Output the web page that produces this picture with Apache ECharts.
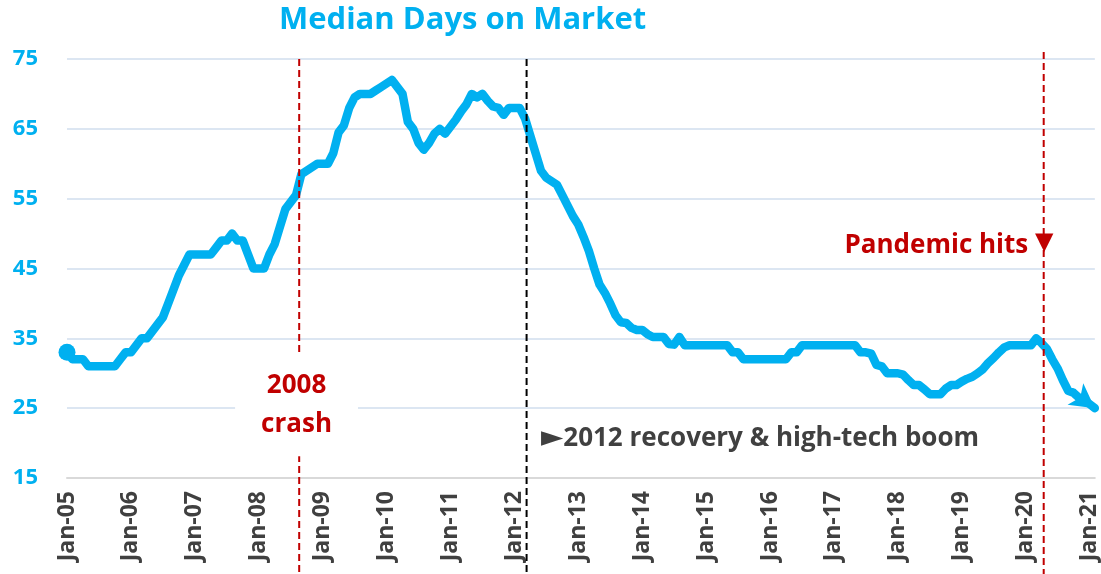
<!DOCTYPE html>
<html>
<head>
<meta charset="utf-8">
<script src="https://cdn.jsdelivr.net/npm/echarts/dist/echarts.min.js"></script>
<style>
  html, body { margin: 0; padding: 0; background: #fff; }
  #chart { width: 1101px; height: 574px; }
</style>
</head>
<body>
<div id="chart"></div>
<script>
// categories: Jan-05 ... Feb-21
const monthNames = ['Jan', 'Feb', 'Mar', 'Apr', 'May', 'Jun', 'Jul', 'Aug', 'Sep', 'Oct', 'Nov', 'Dec']
const years = ['05', '06', '07', '08', '09', '10', '11', '12', '13', '14', '15', '16', '17', '18', '19', '20', '21']
const lastLabel = 'Feb-21'
const categories = []
for (let y of years) {
  for (let m of monthNames) {
    if (categories[categories.length - 1] !== lastLabel) categories.push(m + '-' + y)
  }
}

// median days on market, one value per month
const medianDays = [
  33, 32, 32, 32, 31, 31, 31, 31, 31, 31, 32, 33, // 2005
  33, 34, 35, 35, 36, 37, 38, 40, 42, 44, 45.5, 47, // 2006
  47, 47, 47, 47, 48, 49, 49, 50, 49, 49, 47, 45, // 2007
  45, 45, 47, 48.5, 51, 53.5, 54.5, 55.5, 58.5, 59, 59.5, 60, // 2008
  60, 60, 61.5, 64.5, 65.5, 68, 69.5, 70, 70, 70, 70.5, 71, // 2009
  71.5, 72, 71, 70, 66, 65, 63, 62, 63, 64.3, 65, 64.3, // 2010
  65.3, 66.3, 67.5, 68.5, 70, 69.5, 70, 69, 68.2, 68, 67, 68, // 2011
  68, 68, 66.5, 64, 61.5, 59, 58, 57.5, 57, 55.5, 54, 52.5, // 2012
  51.3, 49.5, 47.5, 45, 42.7, 41.5, 40, 38.3, 37.3, 37.2, 36.5, 36.2, // 2013
  36.2, 35.6, 35.2, 35.2, 35.2, 34.2, 34.1, 35.2, 34, 34, 34, 34, // 2014
  34, 34, 34, 34, 34, 33, 33, 32, 32, 32, 32, 32, // 2015
  32, 32, 32, 32, 33, 33, 34, 34, 34, 34, 34, 34, // 2016
  34, 34, 34, 34, 34, 33, 33, 32.8, 31.2, 31, 30, 30, // 2017
  30, 29.8, 29, 28.3, 28.3, 27.7, 27, 27, 27, 27.8, 28.3, 28.3, // 2018
  28.8, 29.2, 29.5, 30, 30.6, 31.5, 32.2, 33, 33.7, 34, 34, 34, // 2019
  34, 34, 35, 34.3, 33.5, 32, 30.7, 29, 27.5, 27.2, 26.5, 26.1, // 2020
  25.6, 25 // 2021
]

const yTicks = [15, 25, 35, 45, 55, 65, 75]

// event lines (months counted from Jan-05)
const eventMonths = [43.6, 86.3, 183.4]
const eventTops = [75, 75, 76]
const eventColors = ['#C00000', '#000000', '#C00000']

// annotations
const noteTexts = ['2008\ncrash', '{tri|\u25BA}2012 recovery & high-tech boom', 'Pandemic hits', '\u25BC']
const noteMonths = [43.1, 89.0, 180.5, 183.5]
const noteValues = [25.4, 20.6, 48.3, 48.7]

const noteStyles = [
  { fill: '#C00000', align: 'center', font: 'bold 26px "Open Sans"', lineHeight: 39, backgroundColor: '#fff', padding: [12, 26] },
  { fill: '#404040', align: 'left', font: 'bold 26px "Open Sans"', rich: { tri: { fontSize: 29, fontFamily: 'DejaVu Sans', fill: '#404040' } } },
  { fill: '#C00000', align: 'right', font: 'bold 26px "Open Sans"' },
  { fill: '#C00000', align: 'center', font: '24px "DejaVu Sans"' }
]

const blue = '#00B0F0'

let lineData = medianDays.map((v, i) => {
  if (i === 0) return { value: v, symbol: 'circle', symbolSize: 17 }
  if (i === medianDays.length - 1) return { value: v, symbol: 'arrow', symbolSize: [20, 24], symbolRotate: -126 }
  return v
})

let chart = echarts.init(document.getElementById('chart'), null, { renderer: 'canvas' })
chart.setOption({
  animation: false,
  title: {
    text: 'Median Days on Market',
    left: 274,
    top: 0,
    textStyle: { color: blue, fontFamily: 'Open Sans', fontWeight: 'bold', fontSize: 31 }
  },
  grid: { left: 67, right: 0, top: 59, bottom: 96, containLabel: false },
  xAxis: [{
    type: 'category',
    data: categories,
    boundaryGap: false,
    axisLine: { lineStyle: { color: '#D9D9D9', width: 2 } },
    axisTick: { show: false },
    axisLabel: {
      interval: 11,
      rotate: 90,
      margin: 13,
      color: '#404040',
      fontFamily: 'Open Sans',
      fontWeight: 'bold',
      fontSize: 23
    }
  }, {
    // hidden month axis for event lines and notes
    type: 'value',
    min: 0,
    max: categories.length - 1,
    show: false
  }],
  yAxis: {
    type: 'value',
    min: yTicks[0],
    max: yTicks[yTicks.length - 1],
    interval: 10,
    axisLine: { show: false },
    axisTick: { show: false },
    splitLine: { lineStyle: { color: '#DCE6F2', width: 2 } },
    axisLabel: {
      margin: 29,
      color: blue,
      fontFamily: 'Open Sans',
      fontWeight: 'bold',
      fontSize: 22
    }
  },
  series: [
    {
      name: 'Median Days on Market',
      type: 'line',
      data: lineData,
      symbol: 'none',
      showSymbol: true,
      showAllSymbol: true,
      clip: false,
      itemStyle: { color: blue },
      lineStyle: { color: blue, width: 8.5, join: 'round', cap: 'round' },
      z: 2
    },
    {
      name: 'events',
      type: 'custom',
      xAxisIndex: 1,
      z: 3,
      data: eventMonths.map((m, i) => [m, eventTops[i], i]),
      renderItem: function (params, api) {
        let top = api.coord([api.value(0), api.value(1)])
        return {
          type: 'line',
          shape: { x1: top[0], y1: top[1], x2: top[0], y2: api.getHeight() },
          style: { stroke: eventColors[api.value(2)], lineWidth: 2, lineDash: [7, 4] }
        }
      }
    },
    {
      name: 'notes',
      type: 'custom',
      xAxisIndex: 1,
      z: 4,
      data: noteMonths.map((m, i) => [m, noteValues[i], i]),
      renderItem: function (params, api) {
        let i = api.value(2)
        let p = api.coord([api.value(0), api.value(1)])
        return {
          type: 'text',
          x: p[0],
          y: p[1],
          style: Object.assign({ text: noteTexts[i], verticalAlign: 'middle' }, noteStyles[i])
        }
      }
    }
  ]
})
</script>
</body>
</html>
